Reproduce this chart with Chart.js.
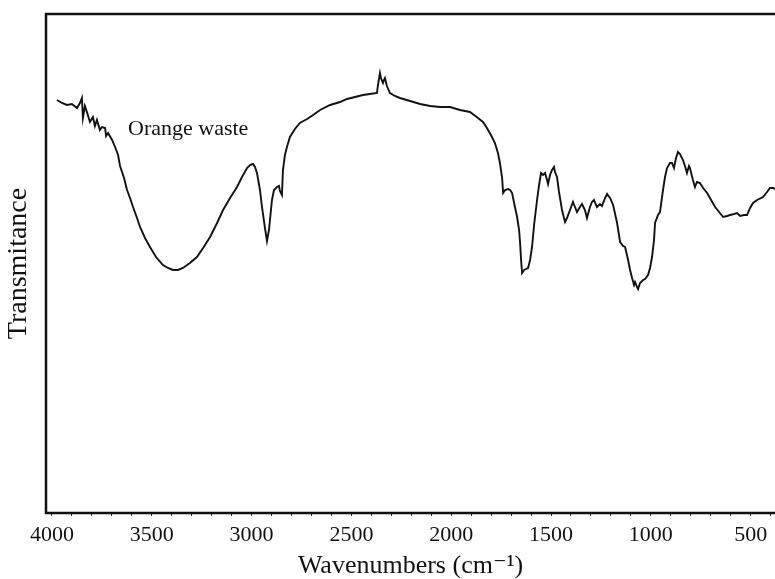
<!DOCTYPE html>
<html>
<head>
<meta charset="utf-8">
<title>FTIR - Orange waste</title>
<script src="https://cdn.jsdelivr.net/npm/chart.js@4/dist/chart.umd.min.js"></script>
<style>
  html, body { margin: 0; padding: 0; background: #fff; }
  #wrap { width: 775px; height: 579px; }
</style>
</head>
<body>
<div id="wrap"><canvas id="spectrum" width="775" height="579"></canvas></div>
<script>
// wavenumber (cm-1) and transmittance (arbitrary units) of the orange waste spectrum
const wavenumbers = [
    3975, 3950, 3925, 3900, 3875, 3860, 3850, 3845, 3835, 3825,
    3810, 3795, 3785, 3775, 3760, 3750, 3734, 3729, 3719, 3699,
    3684, 3669, 3659, 3639, 3624, 3609, 3594, 3574, 3559, 3534,
    3509, 3479, 3444, 3419, 3394, 3369, 3344, 3309, 3274, 3243,
    3208, 3173, 3143, 3108, 3073, 3048, 3023, 3008, 2993, 2983,
    2973, 2958, 2948, 2933, 2923, 2913, 2908, 2898, 2888, 2873,
    2863, 2858, 2848, 2843, 2833, 2823, 2808, 2783, 2758, 2722,
    2692, 2657, 2607, 2557, 2522, 2482, 2442, 2407, 2372, 2367,
    2357, 2352, 2342, 2337, 2332, 2322, 2307, 2282, 2257, 2206,
    2156, 2106, 2056, 2006, 1956, 1906, 1866, 1841, 1821, 1801,
    1781, 1766, 1756, 1745, 1740, 1730, 1715, 1705, 1695, 1685,
    1670, 1660, 1655, 1650, 1645, 1635, 1625, 1615, 1605, 1595,
    1585, 1570, 1560, 1550, 1540, 1530, 1520, 1515, 1505, 1495,
    1485, 1480, 1470, 1460, 1445, 1430, 1420, 1405, 1390, 1380,
    1370, 1355, 1345, 1330, 1320, 1305, 1295, 1285, 1270, 1255,
    1245, 1229, 1219, 1209, 1204, 1189, 1179, 1169, 1154, 1139,
    1129, 1114, 1104, 1094, 1084, 1079, 1069, 1064, 1054, 1039,
    1029, 1014, 1004, 994, 984, 979, 964, 954, 939, 929,
    919, 904, 894, 884, 874, 864, 854, 839, 829, 819,
    809, 804, 789, 779, 769, 754, 738, 718, 698, 678,
    658, 638, 618, 603, 583, 568, 553, 533, 518, 503,
    488, 468, 438, 418, 403, 388, 375
];

const transmittance = [
    82.6, 82.0, 81.6, 81.8, 81.0, 82.0, 83.0, 79.0, 81.4, 80.2,
    78.2, 79.2, 77.4, 78.6, 76.6, 77.2, 77.0, 75.4, 76.0, 74.6,
    73.2, 71.6, 69.4, 67.0, 64.6, 63.0, 61.2, 59.0, 57.2, 55.0,
    53.2, 51.2, 49.6, 49.0, 48.6, 48.6, 49.0, 50.0, 51.2, 53.0,
    55.2, 58.0, 60.6, 63.0, 65.2, 67.2, 69.0, 69.6, 69.8, 69.2,
    68.0, 64.6, 61.2, 57.0, 54.4, 56.6, 58.6, 62.6, 64.6, 65.2,
    65.4, 64.4, 63.6, 68.6, 71.6, 73.2, 75.2, 76.8, 78.0, 78.8,
    79.6, 80.6, 81.6, 82.2, 82.8, 83.2, 83.6, 83.8, 84.0, 85.6,
    88.0, 87.0, 86.0, 86.6, 87.0, 85.4, 84.0, 83.4, 83.0, 82.4,
    81.8, 81.4, 81.2, 81.2, 80.6, 80.2, 79.0, 78.2, 77.0, 75.6,
    74.0, 72.0, 70.0, 67.0, 64.0, 64.6, 64.8, 64.6, 64.0, 62.0,
    59.2, 56.6, 54.0, 50.6, 48.0, 48.6, 48.8, 49.0, 50.6, 53.2,
    57.6, 62.6, 65.6, 68.0, 67.6, 68.0, 66.6, 65.8, 67.6, 68.6,
    69.2, 68.2, 67.2, 64.2, 60.6, 58.2, 59.0, 60.6, 62.2, 61.2,
    60.2, 61.2, 61.8, 60.6, 59.0, 61.2, 62.2, 62.6, 61.2, 61.8,
    61.4, 63.0, 63.8, 63.2, 63.0, 61.6, 59.8, 58.0, 54.2, 53.4,
    53.2, 50.6, 48.6, 47.0, 45.6, 46.2, 45.2, 44.8, 46.0, 46.6,
    46.8, 47.6, 49.0, 51.2, 54.6, 58.0, 59.6, 60.2, 64.6, 67.2,
    69.0, 70.0, 70.0, 69.0, 71.0, 72.2, 71.8, 70.6, 69.4, 68.0,
    69.4, 69.0, 66.6, 65.2, 66.2, 66.0, 65.0, 64.0, 62.6, 61.2,
    60.2, 59.2, 59.4, 59.6, 59.8, 60.0, 59.4, 59.6, 59.6, 61.0,
    62.0, 62.6, 63.2, 64.2, 65.0, 65.0, 64.8
];

// numbered ticks on the wavenumber axis
const labeledTicks = [4000, 3500, 3000, 2500, 2000, 1500, 1000, 500];

const sampleName = 'Orange waste';
const sampleLabelAt = { x: 3619, y: 75.6 };

const serif = '"Liberation Serif", "DejaVu Serif", serif';
const ink = '#111';

const points = wavenumbers.map((w, i) => ({ x: w, y: transmittance[i] }));

// small tick every 100 cm-1, numbers only on the labeled ones
const minorTicks = [];
for (let v = 400; v <= 4000; v += 100) minorTicks.push({ value: v });

// box around the plot: left, top and bottom edges (right side runs off the page)
const frame = {
    id: 'frame',
    afterDatasetsDraw(chart) {
        const { ctx, chartArea } = chart;
        ctx.save();
        ctx.strokeStyle = ink;
        ctx.lineWidth = 2.5;
        ctx.beginPath();
        ctx.moveTo(chartArea.right + 2, chartArea.top);
        ctx.lineTo(chartArea.left, chartArea.top);
        ctx.lineTo(chartArea.left, chartArea.bottom);
        ctx.lineTo(chartArea.right + 2, chartArea.bottom);
        ctx.stroke();
        ctx.restore();
    }
};

// sample name written next to the curve
const sampleLabel = {
    id: 'sampleLabel',
    afterDatasetsDraw(chart) {
        const { ctx, scales } = chart;
        ctx.save();
        ctx.font = '22px ' + serif;
        ctx.fillStyle = ink;
        ctx.textAlign = 'left';
        ctx.textBaseline = 'alphabetic';
        ctx.fillText(sampleName, scales.x.getPixelForValue(sampleLabelAt.x), scales.y.getPixelForValue(sampleLabelAt.y));
        ctx.restore();
    }
};

new Chart(document.getElementById('spectrum'), {
    type: 'line',
    data: {
        datasets: [{
            label: sampleName,
            data: points,
            borderColor: ink,
            borderWidth: 1.9,
            pointRadius: 0,
            tension: 0,
            fill: false
        }]
    },
    options: {
        responsive: false,
        animation: false,
        devicePixelRatio: 1,
        layout: { padding: { top: 14, right: 0, left: 0, bottom: 0 } },
        plugins: {
            legend: { display: false },
            tooltip: { enabled: false }
        },
        scales: {
            x: {
                type: 'linear',
                reverse: true,
                min: 378,
                max: 4030,
                afterBuildTicks: (scale) => {
                    scale.ticks = minorTicks.slice();
                },
                afterFit: (scale) => { scale.height = 66; },
                ticks: {
                    autoSkip: false,
                    maxRotation: 0,
                    padding: 6,
                    color: ink,
                    font: { family: serif, size: 22 },
                    callback: (value) => labeledTicks.includes(value) ? String(value) : ''
                },
                grid: {
                    display: true,
                    drawOnChartArea: false,
                    drawTicks: true,
                    tickLength: 3,
                    color: '#333',
                    lineWidth: 1
                },
                border: { display: false },
                title: {
                    display: true,
                    text: 'Wavenumbers (cm⁻¹)',
                    color: ink,
                    font: { family: serif, size: 26, lineHeight: 1 },
                    padding: { top: 0, bottom: 0 }
                }
            },
            y: {
                min: 0,
                max: 99.8,
                afterFit: (scale) => { scale.width = 46; },
                ticks: { display: false },
                grid: { display: false, drawTicks: false },
                border: { display: false },
                title: {
                    display: true,
                    text: 'Transmitance',
                    color: ink,
                    font: { family: serif, size: 28, lineHeight: 1 },
                    padding: { top: 5, bottom: 0 }
                }
            }
        }
    },
    plugins: [frame, sampleLabel]
});
</script>
</body>
</html>
